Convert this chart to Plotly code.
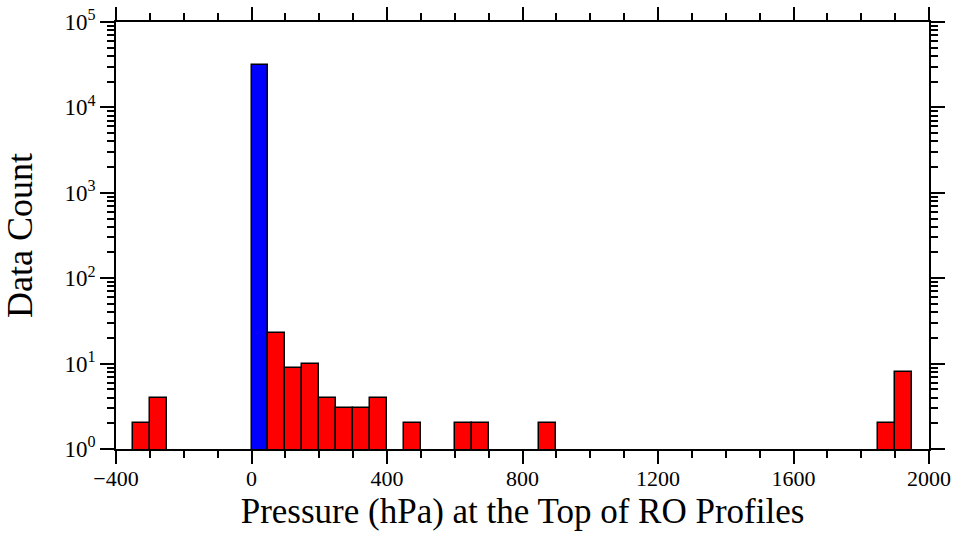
import plotly.graph_objects as go

# Histogram bins (left edges, hPa), bin width 50
bin_left = [-350, -300, 0, 50, 100, 150, 200, 250, 300, 350, 450, 600, 650, 850, 1850, 1900]
counts = [2, 4, 31000, 23, 9, 10, 4, 3, 3, 4, 2, 2, 2, 2, 2, 8]
bin_width = 50
colors = ["#ff0000" if l != 0 else "#0000ff" for l in bin_left]

y_major = [1, 10, 100, 1000, 10000, 100000]
y_labels = ["10<sup>%d</sup>" % i for i in range(6)]
y_minor = [m * d for d in [1, 10, 100, 1000, 10000] for m in range(2, 10)]

FONT = "Liberation Serif, Times New Roman, serif"

fig = go.Figure()
fig.add_trace(go.Bar(
    x=[l + bin_width / 2 for l in bin_left],
    y=counts,
    width=bin_width,
    marker=dict(color=colors, line=dict(color="black", width=1.5)),
    showlegend=False,
))

fig.update_layout(
    width=955, height=538,
    margin=dict(l=116, r=26, t=22, b=89),
    plot_bgcolor="white", paper_bgcolor="white",
    font=dict(family=FONT, color="black", size=22),
    bargap=0,
)
fig.update_xaxes(
    range=[-400, 2000], tickmode="linear", tick0=-400, dtick=400,
    ticks="outside", ticklen=13, tickwidth=1.5, tickcolor="black",
    showline=True, linecolor="black", linewidth=1.5, mirror="ticks",
    showgrid=False, zeroline=False, automargin=False,
    ticklabelstandoff=-4,
    minor=dict(dtick=100, tick0=-400, ticks="outside", ticklen=7, tickwidth=1.5, tickcolor="black", showgrid=False),
    title=dict(text="Pressure (hPa) at the Top of RO Profiles", font=dict(size=35), standoff=8),
    tickfont=dict(size=22),
)
fig.update_yaxes(
    type="log", range=[0, 5],
    tickmode="array", tickvals=y_major, ticktext=y_labels,
    ticks="outside", ticklen=14, tickwidth=1.5, tickcolor="black",
    showline=True, linecolor="black", linewidth=1.5, mirror="ticks",
    showgrid=False, zeroline=False, automargin=False,
    minor=dict(tickmode="array", tickvals=y_minor, ticks="outside", ticklen=7, tickwidth=1.5, tickcolor="black", showgrid=False),
    title=dict(text="Data Count", font=dict(size=36), standoff=22),
    tickfont=dict(size=23),
)

fig.write_html("out.html")
